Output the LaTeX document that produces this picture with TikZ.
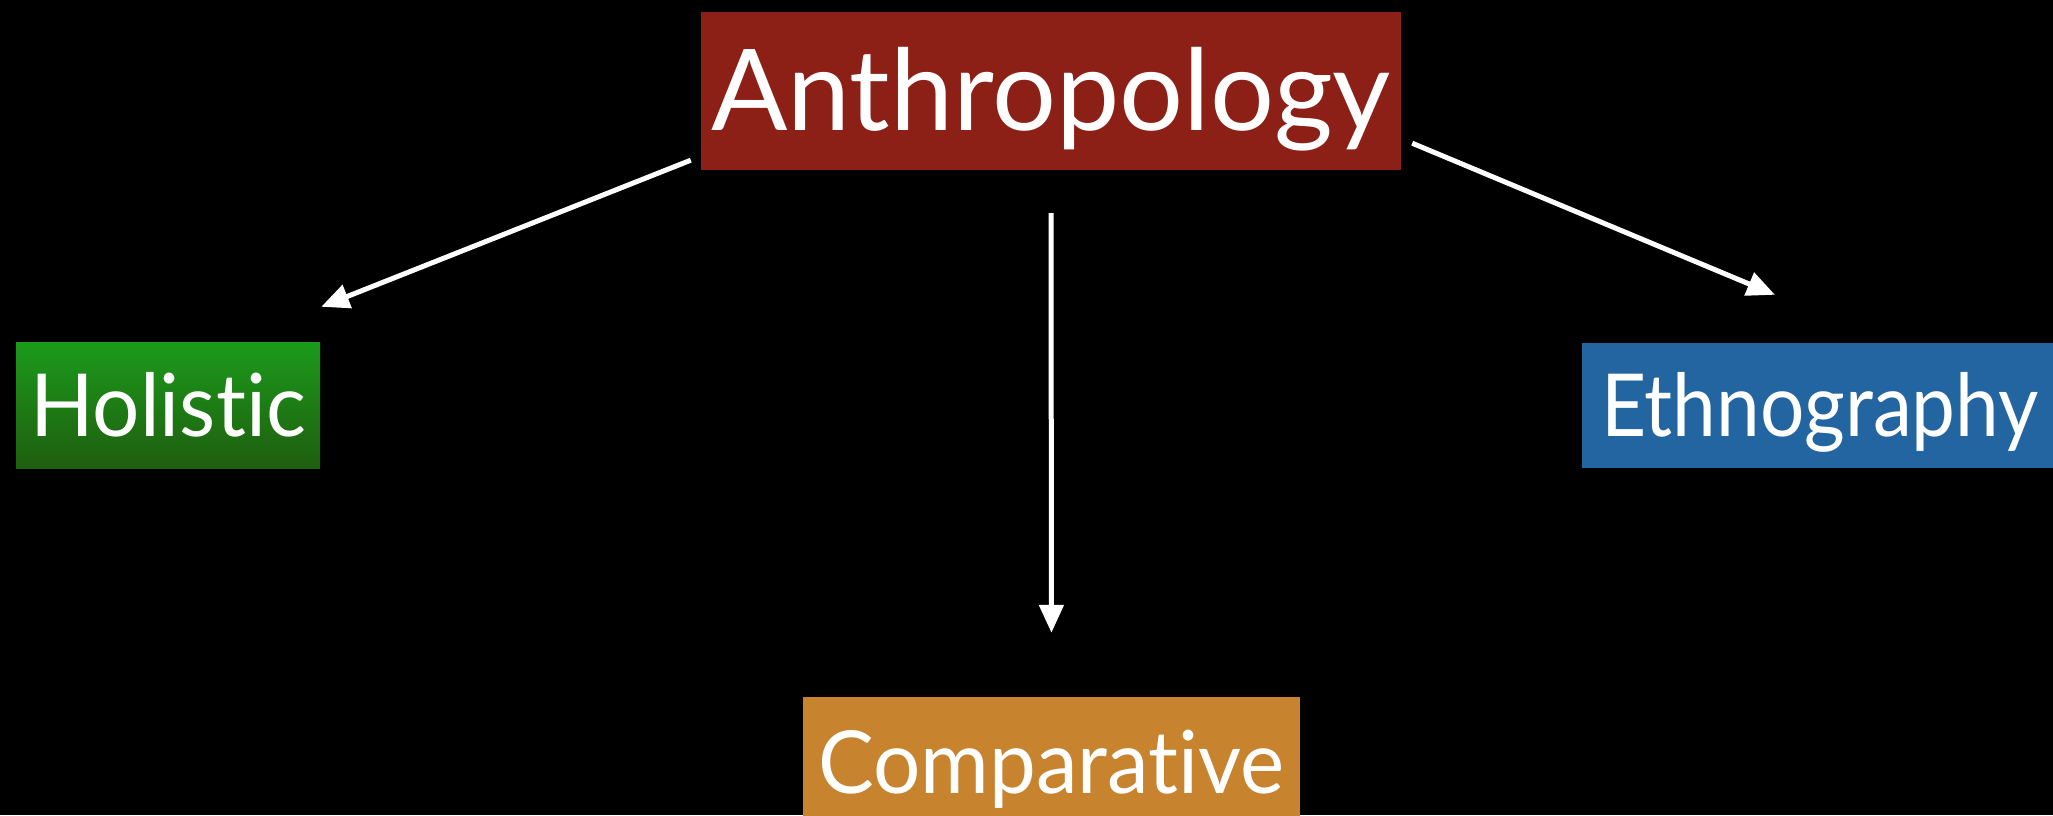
\documentclass[tikz,border=0pt]{standalone}
\usepackage{fontspec}
\setmainfont{Lato}[Ligatures=NoCommon]
\newfontfamily\subfont{Lato}[Ligatures=NoCommon,FakeStretch=0.96]
\newfontfamily\ethfont{Lato}[Ligatures=NoCommon,FakeStretch=0.9]
\usetikzlibrary{arrows.meta}
\definecolor{anthrored}{RGB}{140,32,22}
\definecolor{holtop}{RGB}{27,154,27}
\definecolor{holbot}{RGB}{31,94,15}
\definecolor{ethblue}{RGB}{34,101,160}
\definecolor{comporange}{RGB}{200,131,47}
\tikzset{
  topbox/.style={text=white, inner sep=0pt, font=\fontsize{113}{120}\selectfont},
  subbox/.style={text=white, inner sep=0pt, text height=94pt, text depth=31pt,
    font=\subfont\fontsize{87}{94}\selectfont},
  link/.style={draw=white, line width=5pt, -{Triangle[length=28pt,width=24pt]}}
}

\begin{document}
\begin{tikzpicture}[x=1pt,y=1pt]
   \fill[black] (0,0) rectangle (2053,815);
   \useasboundingbox (0,0) rectangle (2053,815);
   \path (1051,684) node[topbox,fill=anthrored,anchor=base,minimum width=700pt,
     text height=119pt,text depth=39pt] (anthro) {Anthropology};
   \path (168,378) node[subbox,top color=holtop,bottom color=holbot,anchor=base,
     minimum width=304pt] (holistic) {Holistic};
   \path (1582,378) node[subbox,fill=ethblue,anchor=base west,inner xsep=19pt,
     font=\ethfont\fontsize{87}{94}\selectfont] (ethno) {Ethnography};
   \path (1051.5,22) node[subbox,fill=comporange,anchor=base,minimum width=497pt,
     text height=96pt,text depth=40pt] (comp) {Comparative};
   \draw[link] ([shift={(-10,10)}]anthro.south west) -- ([shift={(1,36)}]holistic.north east);
   \draw[link] ([shift={(11,27)}]anthro.south east) -- ([shift={(193,48)}]ethno.north west);
   \draw[link,shorten <=43pt,shorten >=64pt] (anthro.south) -- (comp.north);
\end{tikzpicture}
\end{document}
